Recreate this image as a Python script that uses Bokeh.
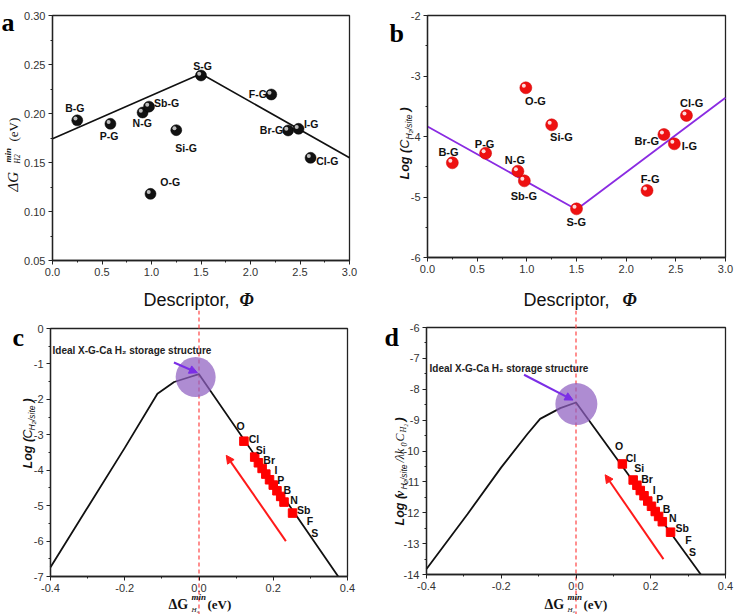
import numpy as np
from bokeh.plotting import figure
from bokeh.models import (FixedTicker, PrintfTickFormatter, Label, Arrow, NormalHead,
                          Span, Range1d, BoxAnnotation)
from bokeh.layouts import row, column
from bokeh.core.properties import value
from bokeh.embed import file_html
from bokeh.resources import INLINE

# ---------------- data ----------------
elements = ["B-G", "P-G", "N-G", "Sb-G", "O-G", "Si-G", "S-G", "F-G", "Br-G", "I-G", "Cl-G"]
phi = [0.25, 0.585, 0.91, 0.975, 0.99, 1.25, 1.50, 2.21, 2.38, 2.485, 2.607]
dG = [0.193, 0.1895, 0.201, 0.207, 0.118, 0.183, 0.2388, 0.2194, 0.1827, 0.1844, 0.1548]
logC = [-4.435, -4.276, -4.573, -4.733, -3.195, -3.807, -5.196, -4.893, -3.967, -4.121, -3.653]

fit_a_x = [0.0, 1.5, 3.0]
fit_a_y = [0.1742, 0.2405, 0.1548]
fit_b_x = [0.0, 1.5, 3.0]
fit_b_y = [-3.835, -5.207, -3.36]

lab_a_x = [0.226, 0.572, 0.906, 1.152, 1.189, 1.350, 1.515, 2.074, 2.212, 2.613, 2.775]
lab_a_y = [0.2058, 0.1768, 0.1901, 0.2105, 0.1299, 0.1650, 0.2480, 0.2201, 0.1827, 0.1888, 0.1513]
lab_b_x = [0.211, 0.575, 0.880, 0.970, 1.087, 1.348, 1.498, 2.241, 2.207, 2.636, 2.659]
lab_b_y = [-4.25, -4.12, -4.385, -4.99, -3.405, -4.00, -5.42, -4.70, -4.07, -4.165, -3.44]

curve_c_x = [-0.4, -0.3, -0.2, -0.112, -0.067, -0.031, 0.0, 0.375]
curve_c_y = [-6.74, -5.05, -3.37, -1.84, -1.51, -1.39, -1.29, -7.0]
curve_d_x = [-0.4, -0.29, -0.2, -0.13, -0.096, -0.042, 0.0, 0.334]
curve_d_y = [-13.82, -12.04, -10.53, -9.45, -8.96, -8.61, -8.43, -14.0]

sq_c_x = [0.121, 0.150, 0.160, 0.170, 0.180, 0.190, 0.200, 0.210, 0.220, 0.229, 0.252]
sq_c_y = [-3.18, -3.63, -3.79, -3.95, -4.11, -4.27, -4.42, -4.58, -4.74, -4.90, -5.21]
sq_d_x = [0.124, 0.153, 0.163, 0.172, 0.182, 0.192, 0.202, 0.212, 0.221, 0.231, 0.253]
sq_d_y = [-10.42, -10.94, -11.11, -11.28, -11.45, -11.62, -11.79, -11.96, -12.12, -12.29, -12.63]

sq_names = ["O", "Cl", "Si", "Br", "I", "P", "B", "N", "Sb", "F", "S"]
name_c_x = [0.112, 0.148, 0.166, 0.189, 0.207, 0.220, 0.238, 0.256, 0.282, 0.299, 0.312]
name_c_y = [-2.76, -3.13, -3.42, -3.70, -4.00, -4.29, -4.57, -4.85, -5.13, -5.44, -5.77]
name_d_x = [0.1155, 0.147, 0.169, 0.190, 0.209, 0.224, 0.242, 0.259, 0.284, 0.301, 0.312]
name_d_y = [-9.83, -10.23, -10.55, -10.91, -11.25, -11.55, -11.88, -12.17, -12.49, -12.87, -13.28]

ideal_c = (-0.009, -1.37)
ideal_d = (0.001, -8.48)
purple_arrow_c = (-0.0675, -0.96, -0.0044, -1.25)
purple_arrow_d = (-0.139, -7.53, -0.008, -8.35)
red_arrow_c = (0.234, -6.0, 0.0734, -3.58)
red_arrow_d = (0.234, -13.5, 0.078, -10.77)

ticks_phi = [0.0, 0.5, 1.0, 1.5, 2.0, 2.5, 3.0]
minor_phi = [0.25, 0.75, 1.25, 1.75, 2.25, 2.75]
ticks_a_y = [0.05, 0.10, 0.15, 0.20, 0.25, 0.30]
minor_a_y = [0.075, 0.125, 0.175, 0.225, 0.275]
ticks_b_y = [-6, -5, -4, -3, -2]
minor_b_y = [-5.5, -4.5, -3.5, -2.5]
ticks_dg = [-0.4, -0.2, 0.0, 0.2, 0.4]
minor_dg = [-0.3, -0.1, 0.1, 0.3]
ticks_c_y = [-7, -6, -5, -4, -3, -2, -1, 0]
minor_c_y = [-6.5, -5.5, -4.5, -3.5, -2.5, -1.5, -0.5]
ticks_d_y = [-14, -13, -12, -11, -10, -9, -8, -7, -6]
minor_d_y = [-13.5, -12.5, -11.5, -10.5, -9.5, -8.5, -7.5, -6.5]

# ---------------- layout (page pixel geometry) ----------------
# figure canvas: (pl, pt, W, H); plot box: (fl, ft, fw, fh); data bounds xb, yb
A = dict(pl=0, pt=0, W=370, H=310, fl=52, ft=15, fw=297, fh=245, xb=(0, 3), yb=(0.05, 0.30))
B = dict(pl=370, pt=0, W=364, H=310, fl=427, ft=15, fw=298, fh=242, xb=(0, 3), yb=(-6, -2))
C = dict(pl=0, pt=310, W=370, H=304, fl=50, ft=328, fw=297, fh=248, xb=(-0.4, 0.4), yb=(-7, 0))
D = dict(pl=370, pt=310, W=364, H=304, fl=426, ft=327, fw=299, fh=247, xb=(-0.4, 0.4), yb=(-14, -6))

SANS = "Liberation Sans"
SERIF = "Liberation Serif"
AX = "#222222"


def mk(c, xt, xm, yt, ym, xf, yf):
    x0, x1 = c["xb"]
    y0, y1 = c["yb"]
    kx = (x1 - x0) / c["fw"]
    ky = (y1 - y0) / c["fh"]
    xs = x0 - (c["fl"] - c["pl"]) * kx
    yt_ = y1 + (c["ft"] - c["pt"]) * ky
    p = figure(width=c["W"], height=c["H"],
               x_range=Range1d(xs, xs + c["W"] * kx), y_range=Range1d(yt_ - c["H"] * ky, yt_),
               output_backend="svg", toolbar_location=None, title=None,
               min_border_left=0, min_border_right=0, min_border_top=0, min_border_bottom=0)
    p.xgrid.visible = False
    p.ygrid.visible = False
    p.outline_line_color = None
    p.xaxis.fixed_location = y0
    p.yaxis.fixed_location = x0
    p.xaxis.bounds = (x0, x1)
    p.yaxis.bounds = (y0, y1)
    p.xaxis.ticker = FixedTicker(ticks=xt, minor_ticks=xm)
    p.yaxis.ticker = FixedTicker(ticks=yt, minor_ticks=ym)
    p.xaxis.formatter = PrintfTickFormatter(format=xf)
    p.yaxis.formatter = PrintfTickFormatter(format=yf)
    for ax in (p.xaxis[0], p.yaxis[0]):
        ax.major_tick_in = 0
        ax.major_tick_out = 4
        ax.minor_tick_in = 0
        ax.minor_tick_out = 2
        ax.axis_line_color = AX
        ax.axis_line_width = 1.3
        ax.major_tick_line_color = AX
        ax.minor_tick_line_color = AX
        ax.major_tick_line_width = 1
        ax.major_label_text_font = SANS
        ax.major_label_text_font_size = "11px"
        ax.major_label_text_color = "#333333"
        ax.major_label_standoff = 3
    p.add_layout(BoxAnnotation(left=x0, right=x1, bottom=y0, top=y1, fill_alpha=0,
                               line_color=AX, line_width=1.3, line_alpha=1, level="underlay"))

    def pg(px, py):
        return (xs + (px - c["pl"]) * kx, yt_ - (py - c["pt"]) * ky)
    return p, pg, (kx, ky)


def lab(p, pg, px, py, text, size, font=SANS, style="normal", align="left",
        baseline="alphabetic", angle=0.0, color="#111111"):
    x, y = pg(px, py)
    p.add_layout(Label(x=x, y=y, text=text, text_font=font, text_font_size=f"{size}px",
                       text_font_style=style, text_align=align, text_baseline=baseline,
                       angle=angle, text_color=color))


R90 = np.pi / 2

# ---------------- panel a ----------------
pa, pga, ua = mk(A, ticks_phi, minor_phi, ticks_a_y, minor_a_y, "%.1f", "%.2f")
pa.line(fit_a_x, fit_a_y, line_color="#111111", line_width=1.6)
pa.scatter(phi, dG, size=11, fill_color="#111111", line_color="#000000", line_width=0.5)
pa.scatter(list(np.array(phi) - 1.8 * ua[0]), list(np.array(dG) + 1.8 * ua[1]),
           size=4, fill_color="#dddddd", fill_alpha=0.85, line_color=None)
pa.text(lab_a_x, lab_a_y, text=elements, text_font=value(SANS), text_font_size=value("10.5px"),
        text_font_style=value("bold"), text_align=value("center"), text_baseline=value("middle"),
        text_color=value("#111111"))
lab(pa, pga, 1, 22, "a", 26, font=SERIF, style="bold", color="#000000")
lab(pa, pga, 143, 299, "Descriptor,", 18, color="#111111")
lab(pa, pga, 239, 299, "Φ", 18, font=SERIF, style="bold italic")
lab(pa, pga, 12, 191, "ΔG", 15, font=SERIF, style="italic", baseline="middle", angle=R90)
lab(pa, pga, 7.5, 162, "min", 9, font=SERIF, style="bold italic", baseline="middle", angle=R90)
lab(pa, pga, 16.5, 163, "H2", 7.5, font=SERIF, style="italic", baseline="middle", angle=R90)
lab(pa, pga, 12.5, 141, "(eV)", 13, font=SERIF, baseline="middle", angle=R90)

# ---------------- panel b ----------------
pb, pgb, ub = mk(B, ticks_phi, minor_phi, ticks_b_y, minor_b_y, "%.1f", "%d")
pb.line(fit_b_x, fit_b_y, line_color="#8a2be2", line_width=1.8)
pb.scatter(phi, logC, size=12, fill_color="#ee1111", line_color="#cc0000", line_width=0.5)
pb.scatter(list(np.array(phi) - 2.0 * ub[0]), list(np.array(logC) + 2.0 * ub[1]),
           size=4, fill_color="#ffffff", fill_alpha=0.85, line_color=None)
pb.text(lab_b_x, lab_b_y, text=elements, text_font=value(SANS), text_font_size=value("11px"),
        text_font_style=value("bold"), text_align=value("center"), text_baseline=value("middle"),
        text_color=value("#111111"))
lab(pb, pgb, 389, 33, "b", 26, font=SERIF, style="bold", color="#000000")
lab(pb, pgb, 523, 299, "Descriptor,", 18)
lab(pb, pgb, 622, 299, "Φ", 18, font=SERIF, style="bold italic")
lab(pb, pgb, 404, 179, "Log (", 12.5, style="bold italic", baseline="middle", angle=R90)
lab(pb, pgb, 404, 148, "C", 12.5, style="italic", baseline="middle", angle=R90)
lab(pb, pgb, 408, 139, "H₂/site", 8.5, style="italic", baseline="middle", angle=R90)
lab(pb, pgb, 404, 111, ")", 12.5, style="bold italic", baseline="middle", angle=R90)


# ---------------- panels c, d ----------------
def lower(cfg, yt, ym, curve_x, curve_y, sq_x, sq_y, nx, ny, ideal, parrow, rarrow, csize):
    p, pg, u = mk(cfg, ticks_dg, minor_dg, yt, ym, "%.1f", "%d")
    p.add_layout(Span(location=0, dimension="height", line_color="#ff4444", line_dash="4 3",
                      line_width=1.2, level="underlay"))
    p.line(curve_x, curve_y, line_color="#111111", line_width=1.8)
    p.scatter([ideal[0]], [ideal[1]], size=csize, fill_color="#8f5fc0", fill_alpha=0.72,
              line_color=None)
    p.scatter(sq_x, sq_y, marker="square", size=8.5, fill_color="#ff0000", line_color="#ff0000")
    p.text(nx, ny, text=sq_names, text_font=value(SANS), text_font_size=value("10.5px"),
           text_font_style=value("bold"), text_align=value("center"),
           text_baseline=value("middle"), text_color=value("#111111"))
    p.add_layout(Arrow(end=NormalHead(size=8, fill_color="#7b2ee6", line_color="#7b2ee6"),
                       x_start=parrow[0], y_start=parrow[1], x_end=parrow[2], y_end=parrow[3],
                       line_color="#7b2ee6", line_width=2))
    p.add_layout(Arrow(end=NormalHead(size=8, fill_color="#ff1a1a", line_color="#ff1a1a"),
                       x_start=rarrow[0], y_start=rarrow[1], x_end=rarrow[2], y_end=rarrow[3],
                       line_color="#ff1a1a", line_width=2))
    return p, pg


pc, pgc = lower(C, ticks_c_y, minor_c_y, curve_c_x, curve_c_y, sq_c_x, sq_c_y,
                name_c_x, name_c_y, ideal_c, purple_arrow_c, red_arrow_c, 40)
lab(pc, pgc, 52, 350, "Ideal X-G-Ca  H₂ storage structure", 10, style="bold",
    baseline="middle", color="#222222")
lab(pc, pgc, 12, 337, "c", 26, font=SERIF, style="bold", color="#000000")
lab(pc, pgc, 27, 468, "Log (", 12.5, style="bold italic", baseline="middle", angle=R90)
lab(pc, pgc, 27, 438, "C", 12.5, style="italic", baseline="middle", angle=R90)
lab(pc, pgc, 31, 430, "H₂/site", 8.5, style="italic", baseline="middle", angle=R90)
lab(pc, pgc, 27, 402, ")", 12.5, style="bold italic", baseline="middle", angle=R90)
lab(pc, pgc, 168, 604, "ΔG", 14, font=SERIF, style="bold")
lab(pc, pgc, 191, 596, "min", 9, font=SERIF, style="bold italic")
lab(pc, pgc, 191, 609, "H₂", 7, font=SERIF, style="italic")
lab(pc, pgc, 207, 604, "(eV)", 13, font=SERIF, style="bold")

pd_, pgd = lower(D, ticks_d_y, minor_d_y, curve_d_x, curve_d_y, sq_d_x, sq_d_y,
                 name_d_x, name_d_y, ideal_d, purple_arrow_d, red_arrow_d, 42)
lab(pd_, pgd, 429, 368, "Ideal X-G-Ca  H₂ storage structure", 10, style="bold",
    baseline="middle", color="#222222")
lab(pd_, pgd, 384, 337, "d", 26, font=SERIF, style="bold", color="#000000")
lab(pd_, pgd, 399, 525, "Log (", 12.5, style="bold italic", baseline="middle", angle=R90)
lab(pd_, pgd, 399, 496, "v", 12.5, font=SERIF, style="bold italic", baseline="middle", angle=R90)
lab(pd_, pgd, 403, 489, "H₂/site", 8.5, style="italic", baseline="middle", angle=R90)
lab(pd_, pgd, 399, 462, "/λk", 12, font=SERIF, style="italic", baseline="middle", angle=R90)
lab(pd_, pgd, 403, 446, "0", 8, font=SERIF, style="italic", baseline="middle", angle=R90)
lab(pd_, pgd, 399, 441, "C", 12, font=SERIF, style="italic", baseline="middle", angle=R90)
lab(pd_, pgd, 403, 432, "H₂", 8, font=SERIF, style="italic", baseline="middle", angle=R90)
lab(pd_, pgd, 399, 421, ")", 12.5, style="bold italic", baseline="middle", angle=R90)
lab(pd_, pgd, 544, 604, "ΔG", 14, font=SERIF, style="bold")
lab(pd_, pgd, 567, 596, "min", 9, font=SERIF, style="bold italic")
lab(pd_, pgd, 567, 609, "H₂", 7, font=SERIF, style="italic")
lab(pd_, pgd, 583, 604, "(eV)", 13, font=SERIF, style="bold")

layout = column(row(pa, pb, spacing=0), row(pc, pd_, spacing=0), spacing=0)
open("out.html", "w").write(file_html(layout, INLINE))
